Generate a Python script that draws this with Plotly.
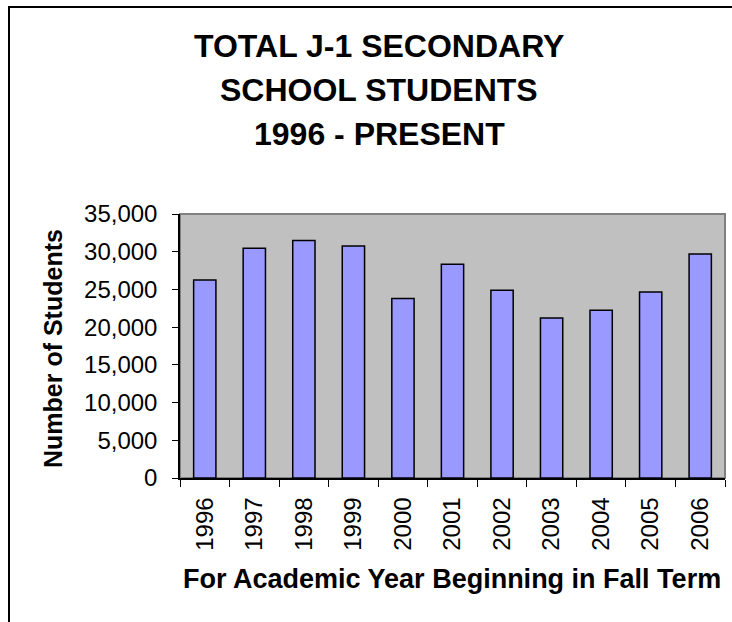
import plotly.graph_objects as go

years = ["1996", "1997", "1998", "1999", "2000", "2001",
         "2002", "2003", "2004", "2005", "2006"]
students = [26250, 30450, 31500, 30750, 23800, 28350,
            24900, 21200, 22250, 24650, 29700]
y_ticks = [0, 5000, 10000, 15000, 20000, 25000, 30000, 35000]
title_lines = ["TOTAL J-1 SECONDARY", "SCHOOL STUDENTS", "1996 - PRESENT"]

W, H = 732, 622
L, R, T, B = 180, 7, 214, 144
pw, ph = W - L - R, H - T - B


def px(x):
    return (x - L) / pw


def py(y):
    return (H - B - y) / ph


font = "Liberation Sans, Arial, sans-serif"

fig = go.Figure()

fig.add_trace(go.Bar(
    x=years,
    y=students,
    width=0.45,
    marker=dict(color="#9999FF", line=dict(color="black", width=1.5)),
))

# gray border around the plot area, black axes drawn on top
fig.add_shape(type="rect", xref="paper", yref="paper", x0=0, x1=1, y0=0, y1=1,
              line=dict(color="#808080", width=2), layer="below")
# outer chart frame (cropped on right and bottom)
fig.add_shape(type="rect", xref="paper", yref="paper",
              x0=px(9), x1=px(W + 20), y0=py(H + 20), y1=py(7),
              line=dict(color="black", width=2))

for text, yc in zip(title_lines, [46, 90, 134]):
    fig.add_annotation(text=f"<b>{text}</b>", xref="paper", yref="paper",
                       x=px(379), y=py(yc), xanchor="center", yanchor="middle",
                       showarrow=False, font=dict(family=font, size=32, color="black"))

fig.add_annotation(text="<b>Number of Students</b>", xref="paper", yref="paper",
                   x=px(53), y=py(349), textangle=-90, xanchor="center", yanchor="middle",
                   showarrow=False, font=dict(family=font, size=25, color="black"))
fig.add_annotation(text="<b>For Academic Year Beginning in Fall Term</b>", xref="paper", yref="paper",
                   x=px(452), y=py(579), xanchor="center", yanchor="middle",
                   showarrow=False, font=dict(family=font, size=27, color="black"))

fig.update_layout(
    width=W,
    height=H,
    margin=dict(l=L, r=R, t=T, b=B),
    plot_bgcolor="#C0C0C0",
    paper_bgcolor="white",
    showlegend=False,
    font=dict(family=font, color="black"),
)

fig.update_xaxes(
    type="category",
    tickangle=-90,
    tickfont=dict(size=24),
    ticks="outside",
    ticklen=7,
    tickcolor="black",
    tickson="boundaries",
    ticklabelstandoff=8,
    showline=True,
    linecolor="black",
    linewidth=1.5,
    showgrid=False,
)

fig.update_yaxes(
    range=[0, 35000],
    tickvals=y_ticks,
    tickformat=",",
    tickfont=dict(size=24),
    ticks="outside",
    ticklen=6,
    tickcolor="black",
    ticklabelstandoff=10,
    showline=True,
    linecolor="black",
    linewidth=1.5,
    showgrid=False,
    zeroline=False,
)

fig.write_html("out.html", config={"displayModeBar": False},
               post_script="document.body.style.margin='0';")
